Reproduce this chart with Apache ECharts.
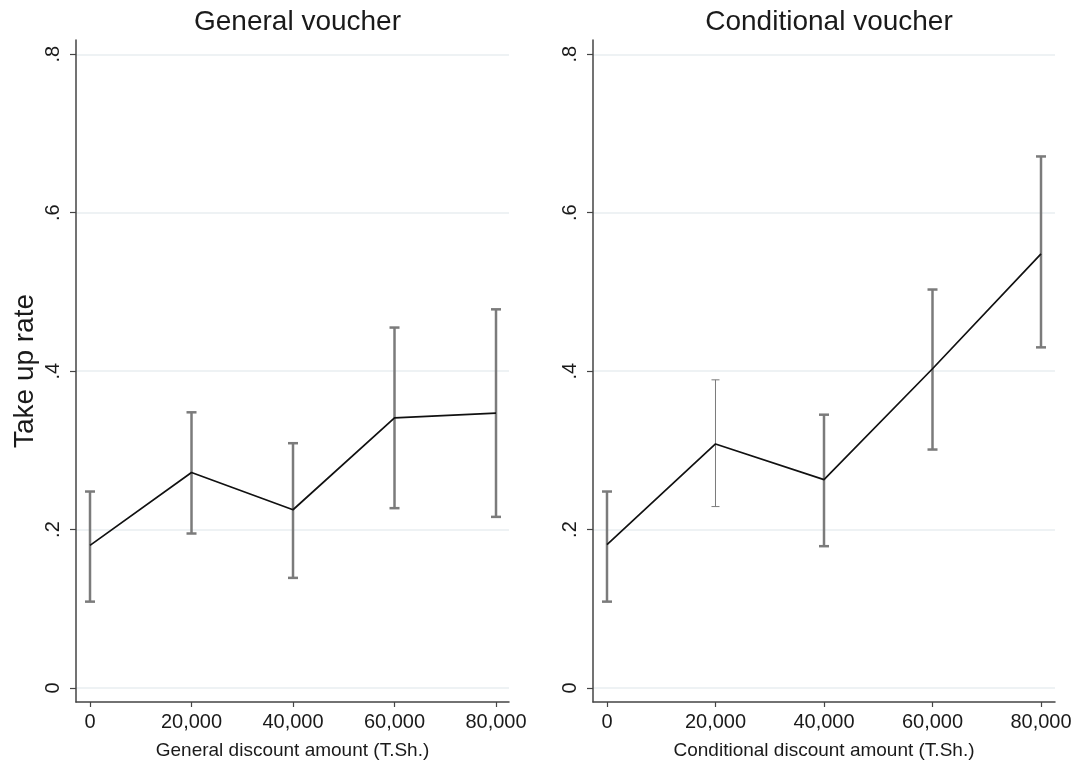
<!DOCTYPE html>
<html>
<head>
<meta charset="utf-8">
<script src="https://cdn.jsdelivr.net/npm/echarts@6/dist/echarts.min.js"></script>
<style>
  html, body { margin: 0; padding: 0; background: #ffffff; }
  #chart { width: 1078px; height: 765px; }
</style>
</head>
<body>
<div id="chart"></div>
<script>
// Discount amounts (T.Sh.) and take-up rates with 95% confidence bounds
const discounts = [0, 20000, 40000, 60000, 80000];

const generalRate = [0.180, 0.272, 0.225, 0.341, 0.347];
const generalLow  = [0.109, 0.195, 0.139, 0.227, 0.216];
const generalHigh = [0.248, 0.348, 0.309, 0.455, 0.478];

const conditionalRate = [0.181, 0.308, 0.263, 0.403, 0.548];
const conditionalLow  = [0.109, 0.229, 0.179, 0.301, 0.430];
const conditionalHigh = [0.248, 0.389, 0.345, 0.503, 0.671];

const xTicks = [0, 20000, 40000, 60000, 80000];
const yTicks = [0, 0.2, 0.4, 0.6, 0.8];

const panelTitles = ['General voucher', 'Conditional voucher'];
const xAxisNames = ['General discount amount (T.Sh.)', 'Conditional discount amount (T.Sh.)'];
const yAxisName = 'Take up rate';

// stroke widths of the confidence-interval whiskers, per panel
const whiskerWidths = [[2.5, 2.5, 2.5, 2.5, 2.5], [2.5, 1, 2.5, 2.5, 2.5]];

const FONT = '"Liberation Sans", Arial, Helvetica, sans-serif';
const AXIS_COLOR = '#444444';
const TEXT_COLOR = '#1a1a1a';
const GRID_COLOR = '#e9eef0';
const CI_COLOR = '#7b7b7b';

const panels = [
  { grid: { left: 76, top: 40, width: 433, height: 662 }, xMin: -2760, xMax: 82560,
    rate: generalRate, low: generalLow, high: generalHigh },
  { grid: { left: 593, top: 40, width: 462, height: 662 }, xMin: -2580, xMax: 82580,
    rate: conditionalRate, low: conditionalLow, high: conditionalHigh }
];

function formatRate(v) {
  if (v === 0) return '0';
  return String(Math.round(v * 10) / 10).replace(/^0\./, '.');
}

function ciRenderer(widths) {
  return function (params, api) {
    const x = api.value(0);
    const lo = api.coord([x, api.value(1)]);
    const hi = api.coord([x, api.value(2)]);
    const w = widths[params.dataIndex];
    const half = w > 1.5 ? 5 : 4;
    const style = { stroke: CI_COLOR, lineWidth: w, fill: null };
    return {
      type: 'group',
      children: [
        { type: 'line', shape: { x1: lo[0], y1: lo[1], x2: hi[0], y2: hi[1] }, style: style },
        { type: 'line', shape: { x1: lo[0] - half, y1: lo[1], x2: lo[0] + half, y2: lo[1] }, style: style },
        { type: 'line', shape: { x1: hi[0] - half, y1: hi[1], x2: hi[0] + half, y2: hi[1] }, style: style }
      ]
    };
  };
}

const option = {
  backgroundColor: '#ffffff',
  animation: false,
  title: panels.map((p, i) => ({
    text: panelTitles[i],
    left: p.grid.left + p.grid.width / 2,
    top: 3,
    textAlign: 'center',
    textStyle: { fontFamily: FONT, fontSize: 28, fontWeight: 'normal', color: TEXT_COLOR }
  })),
  grid: panels.map(p => Object.assign({ containLabel: false }, p.grid)),
  xAxis: panels.map((p, i) => ({
    type: 'value',
    gridIndex: i,
    min: p.xMin,
    max: p.xMax,
    position: 'bottom',
    name: xAxisNames[i],
    nameLocation: 'middle',
    nameGap: 39,
    nameTextStyle: { fontFamily: FONT, fontSize: 19, color: TEXT_COLOR },
    axisLine: { show: true, onZero: false, lineStyle: { color: AXIS_COLOR, width: 1.5 } },
    axisTick: { show: true, length: 5, customValues: xTicks, lineStyle: { color: AXIS_COLOR, width: 1.2 } },
    axisLabel: {
      customValues: xTicks,
      margin: 10,
      fontFamily: FONT, fontSize: 20, color: TEXT_COLOR,
      formatter: v => Number(v).toLocaleString('en-US')
    },
    splitLine: { show: false }
  })),
  yAxis: panels.map((p, i) => ({
    type: 'value',
    gridIndex: i,
    min: -0.0177,
    max: 0.818,
    position: 'left',
    name: i === 0 ? yAxisName : '',
    nameLocation: 'middle',
    nameRotate: 90,
    nameGap: 37,
    nameTextStyle: { fontFamily: FONT, fontSize: 28, color: TEXT_COLOR },
    axisLine: { show: true, onZero: false, lineStyle: { color: AXIS_COLOR, width: 1.5 } },
    axisTick: { show: true, length: 6, customValues: yTicks, lineStyle: { color: AXIS_COLOR, width: 1.2 } },
    axisLabel: {
      customValues: yTicks,
      rotate: 90,
      margin: 13,
      fontFamily: FONT, fontSize: 20, color: TEXT_COLOR,
      formatter: formatRate
    },
    splitLine: { show: true, lineStyle: { color: GRID_COLOR, width: 1.5 } }
  })),
  series: []
};

panels.forEach((p, i) => {
  option.series.push({
    type: 'custom',
    xAxisIndex: i,
    yAxisIndex: i,
    z: 2,
    renderItem: ciRenderer(whiskerWidths[i]),
    encode: { x: 0, y: [1, 2] },
    data: discounts.map((d, k) => [d, p.low[k], p.high[k]])
  });
  option.series.push({
    type: 'line',
    xAxisIndex: i,
    yAxisIndex: i,
    z: 3,
    symbol: 'none',
    lineStyle: { color: '#111111', width: 1.7 },
    data: discounts.map((d, k) => [d, p.rate[k]])
  });
});

const chart = echarts.init(document.getElementById('chart'), null, { renderer: 'canvas' });
chart.setOption(option);
</script>
</body>
</html>
